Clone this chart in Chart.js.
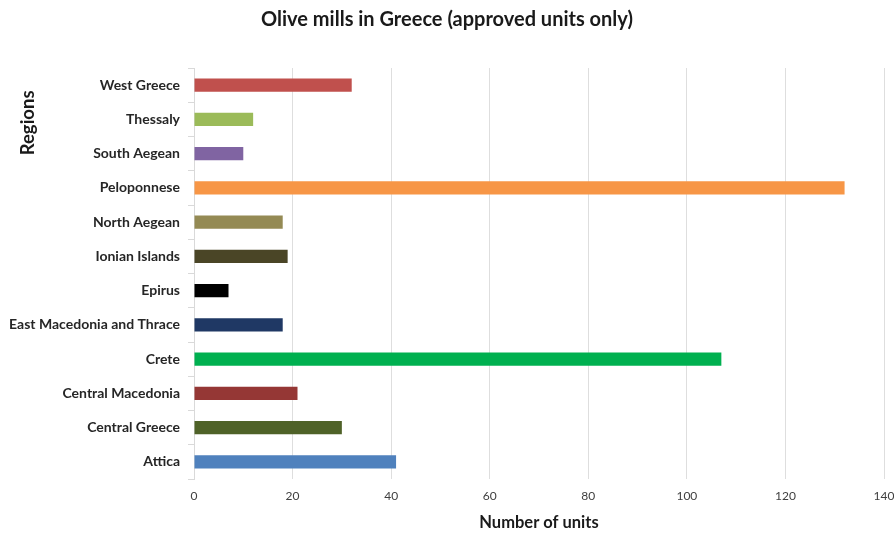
<!DOCTYPE html>
<html>
<head>
<meta charset="utf-8">
<script src="https://cdn.jsdelivr.net/npm/chart.js@4/dist/chart.umd.min.js"></script>
<style>
  html, body { margin: 0; padding: 0; background: #fff; }
</style>
</head>
<body>
<canvas id="grafico" width="894" height="533"></canvas>
<script>
// regions from top to bottom, as in the picture
const regions = ['West Greece', 'Thessaly', 'South Aegean', 'Peloponnese', 'North Aegean',
  'Ionian Islands', 'Epirus', 'East Macedonia and Thrace', 'Crete', 'Central Macedonia',
  'Central Greece', 'Attica'];
const units = [32, 12, 10, 132, 18, 19, 7, 18, 107, 21, 30, 41];
const barColors = ['#C0504D', '#9BBB59', '#8064A2', '#F79646', '#948A54', '#4A4526',
  '#000000', '#1F3864', '#00B050', '#953735', '#4F6228', '#4F81BD'];
const xTicks = [0, 20, 40, 60, 80, 100, 120, 140];

const fonte = 'Lato, "Open Sans", sans-serif';
const ctx = document.getElementById('grafico').getContext('2d');

const grafico = new Chart(ctx, {
  type: 'bar',
  data: {
    labels: regions,
    datasets: [{
      label: 'Number of units',
      data: units,
      backgroundColor: barColors,
      borderWidth: 0,
      barPercentage: 0.38,
      categoryPercentage: 1
    }]
  },
  options: {
    indexAxis: 'y',
    responsive: false,
    animation: false,
    layout: { padding: { left: 0, right: 0, top: 0, bottom: 0 } },
    plugins: {
      legend: { display: false },
      tooltip: { enabled: false },
      title: {
        display: true,
        text: 'Olive mills in Greece (approved units only)',
        color: '#1a1a1a',
        font: { family: fonte, size: 20, weight: 'bold' },
        padding: { top: 8, bottom: 36 }
      }
    },
    scales: {
      x: {
        min: 0,
        max: 140,
        afterBuildTicks: (s) => { s.ticks = xTicks.map(v => ({ value: v })); },
        afterFit: (s) => {
          s.height = 54;
          s.paddingLeft = 0;
          s.paddingRight = 10; // só meia largura do "140"
        },
        ticks: {
          color: '#404040',
          font: { family: fonte, size: 12 },
          padding: 10
        },
        grid: {
          color: '#dedede',
          drawTicks: false
        },
        border: { display: false },
        title: {
          display: true,
          text: 'Number of units',
          color: '#1a1a1a',
          font: { family: fonte, size: 16.5, weight: 'bold' },
          padding: { top: 2, bottom: 0 }
        }
      },
      y: {
        afterFit: (s) => { s.width = 194; },
        ticks: {
          color: '#262626',
          font: { family: fonte, size: 14, weight: 'bold' },
          padding: 8
        },
        grid: {
          drawOnChartArea: false,
          color: '#d9d9d9',
          tickLength: 6
        },
        border: { display: true, color: '#d9d9d9' },
        title: {
          display: true,
          text: 'Regions     ', // espaços empurram o título para baixo
          align: 'end',
          color: '#1a1a1a',
          font: { family: fonte, size: 18.5, weight: 'bold' },
          padding: { top: 17, bottom: 0 }
        }
      }
    }
  }
});
</script>
</body>
</html>
